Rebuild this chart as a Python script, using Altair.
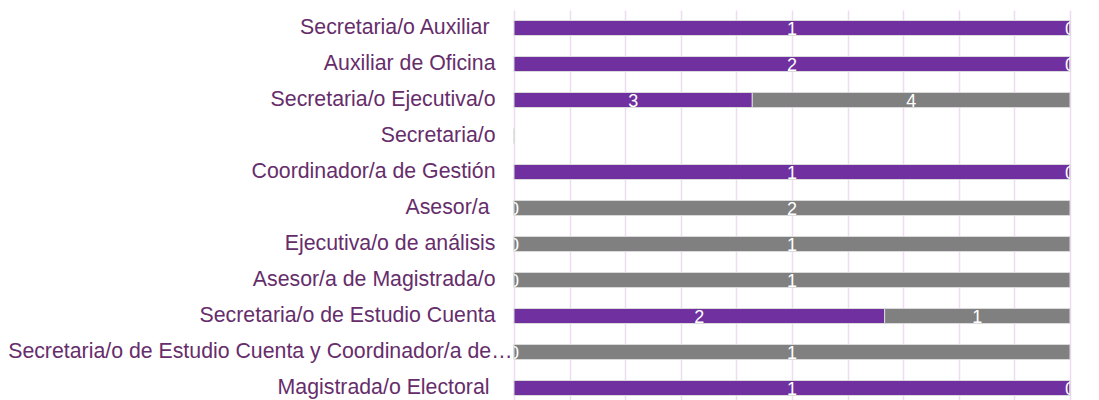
import altair as alt
import pandas as pd

categories = [
    "Secretaria/o Auxiliar",
    "Auxiliar de Oficina",
    "Secretaria/o Ejecutiva/o",
    "Secretaria/o",
    "Coordinador/a de Gestión",
    "Asesor/a",
    "Ejecutiva/o de análisis",
    "Asesor/a de Magistrada/o",
    "Secretaria/o de Estudio Cuenta",
    "Secretaria/o de Estudio Cuenta y Coordinador/a de…",
    "Magistrada/o Electoral",
]
trailing_space_labels = ["Secretaria/o Auxiliar", "Asesor/a", "Magistrada/o Electoral"]
purple_values = [1, 2, 3, 0, 1, 0, 0, 0, 2, 0, 1]
gray_values = [0, 0, 4, 0, 0, 2, 1, 1, 1, 1, 0]
series = ["A", "B"]
colors = ["#7030A0", "#808080"]

rows = []
for i, c in enumerate(categories):
    rows.append({"cat": c, "serie": series[0], "ord": 0, "value": purple_values[i]})
    rows.append({"cat": c, "serie": series[1], "ord": 1, "value": gray_values[i]})
df = pd.DataFrame(rows)

base = alt.Chart(df).transform_stack(
    stack="value", groupby=["cat"], as_=["x0", "x1"], offset="normalize",
    sort=[alt.SortField("ord", order="ascending")],
).transform_calculate(mid="(datum.x0 + datum.x1) / 2")

trail_test = " || ".join(f"datum.value == '{s}'" for s in trailing_space_labels)

y_enc = alt.Y(
    "cat:N", sort=categories, title=None,
    scale=alt.Scale(paddingInner=0, paddingOuter=0),
    axis=alt.Axis(domain=False, ticks=False, labelFontSize=21.3, labelColor="#662D6B",
                  labelFont="Liberation Sans", labelPadding=19,
                  labelLimit=600, grid=False),
)

bars = base.mark_bar(size=15, stroke="#DADADA", strokeWidth=1).encode(
    x=alt.X("x0:Q", scale=alt.Scale(domain=[0, 1], nice=False),
            axis=alt.Axis(values=[i / 10 for i in range(11)], labels=False, ticks=False,
                          domain=False, grid=True, gridColor="#EEDCF0", gridWidth=1.5, title=None)),
    x2="x1:Q",
    y=y_enc,
    color=alt.Color("serie:N", scale=alt.Scale(domain=series, range=colors), legend=None),
)

text = base.mark_text(color="white", fontSize=18, font="Liberation Sans", baseline="middle",
                      align="center", dy=2, clip=True).encode(
    x=alt.X("mid:Q"),
    y=alt.Y("cat:N", sort=categories),
    text=alt.Text("value:Q"),
)

chart = (bars + text).properties(
    width=556, height=396,
    autosize=alt.AutoSizeParams(type="none"),
    padding={"left": 506, "top": 2, "right": 20, "bottom": 0},
).configure_view(stroke=None)

spec = chart.to_dict()
# per-label padding, as the reference offsets a few labels (trailing spaces / long label)
for layer in spec.get("layer", []):
    enc = layer.get("encoding", {})
    if "y" in enc and isinstance(enc["y"].get("axis"), dict):
        enc["y"]["axis"]["labelPadding"] = {
            "condition": [
                {"test": trail_test, "value": 25},
                {"test": f"datum.value == '{categories[9]}'", "value": 2},
            ],
            "value": 19,
        }

final = alt.LayerChart.from_dict(spec, validate=False)
final.save("out.html", embed_options={"renderer": "svg", "actions": False})
